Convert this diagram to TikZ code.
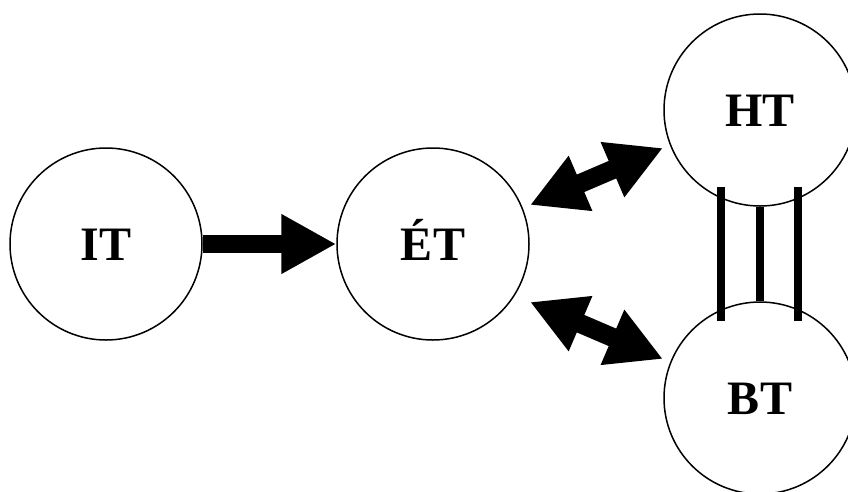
\documentclass[tikz,border=0pt]{standalone}
\usepackage{fontspec}
\setmainfont{Liberation Serif}
\usetikzlibrary{arrows.meta,calc}
\begin{document}
\begin{tikzpicture}[x=1pt,y=-1pt,
  state/.style={circle,draw,line width=1.5pt,fill=white,minimum size=192pt,inner sep=0pt,
    font=\fontsize{48}{56}\selectfont\bfseries,text height=33pt,text depth=0pt},
  bigarrow/.style={line width=18pt,-{Triangle[length=55pt,width=56pt]}},
  dblarrow/.style={line width=19pt,{Triangle[length=55pt,width=56pt]}-{Triangle[length=55pt,width=56pt]}},
  bar/.style={line width=8pt}]
\useasboundingbox (0,0) rectangle (848,491);
\clip (0,0) rectangle (848,491);
\node[state] (IT) at (106,244) {IT};
\node[state] (ET) at (433,244) {ÉT};
\node[state] (HT) at (760,110) {HT};
\node[state] (BT) at (760,398) {BT};
\draw[bigarrow] (IT) -- (ET);
\coordinate (u1) at ($(ET)+(97,-39)$);
\coordinate (u2) at ($(HT)+(-97,38)$);
\coordinate (l1) at ($(ET)+(97,58)$);
\coordinate (l2) at ($(BT)+(-97,-39)$);
\draw[dblarrow] (u1) -- (u2);
\draw[dblarrow] (l1) -- (l2);
\coordinate (bl1) at ($(HT)+(-39,77)$);
\coordinate (bl2) at ($(BT)+(-39,-77)$);
\coordinate (br1) at ($(HT)+(38,77)$);
\coordinate (br2) at ($(BT)+(38,-77)$);
\draw[bar] (bl1) -- (bl2);
\draw[bar] (br1) -- (br2);
\draw[bar] (HT.south) -- (BT.north);
\end{tikzpicture}
\end{document}
